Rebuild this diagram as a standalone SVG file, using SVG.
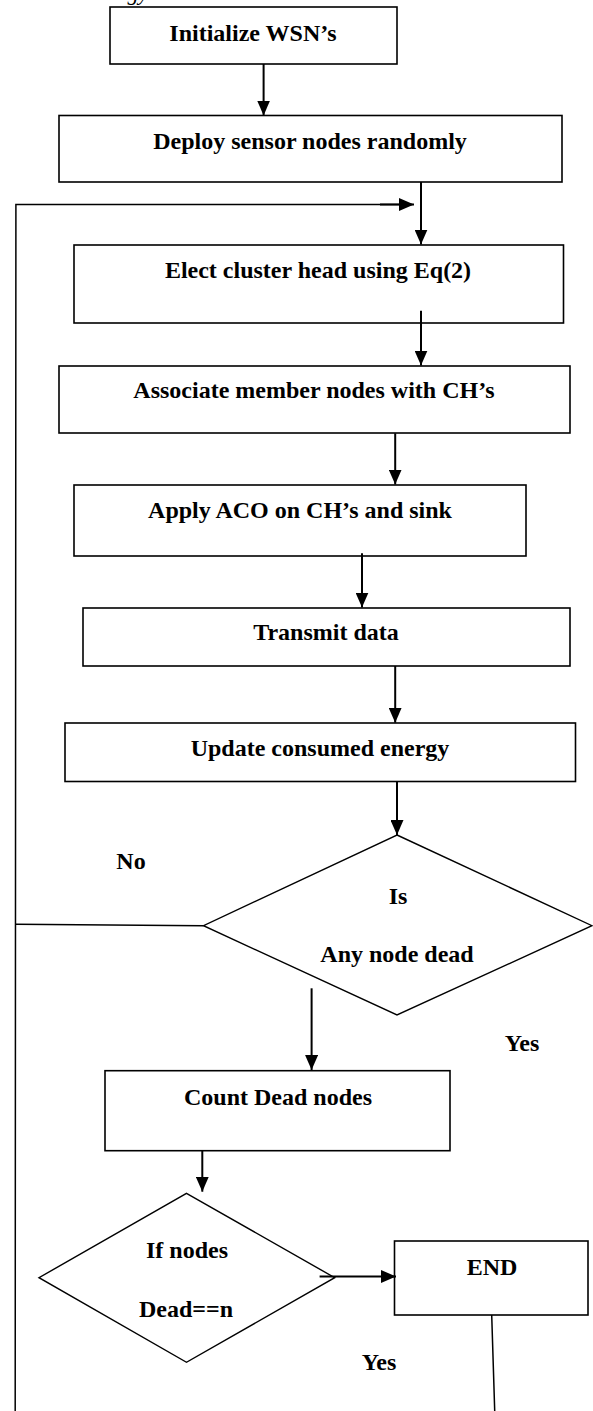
<svg xmlns="http://www.w3.org/2000/svg" width="593" height="1411" viewBox="0 0 593 1411">
<style>
.box{fill:#fff;stroke:#000;stroke-width:1.6}
.dia{fill:#fff;stroke:#000;stroke-width:1.4}
.t{font-family:"Liberation Serif","Times New Roman",serif;font-weight:bold;font-size:24px;fill:#000;text-anchor:middle}
.arr{stroke:#000;stroke-width:2;fill:none;marker-end:url(#ah)}
.ln{stroke:#000;stroke-width:1.5;fill:none}
</style>
<defs>
<marker id="ah" markerUnits="userSpaceOnUse" markerWidth="15" markerHeight="13" refX="15" refY="6.5" orient="auto">
<path d="M0,0 L15,6.5 L0,13 z" fill="#000"/>
</marker>
</defs>
<rect width="593" height="1411" fill="#fff"/>
<text x="138" y="0" style="font-family:'Liberation Serif',serif;font-style:italic;font-size:22px;fill:#000;text-anchor:middle">gy</text>

<g id="n1"><rect class="box" x="110" y="7" width="287" height="57"/><text class="t" x="253" y="41">Initialize WSN’s</text></g>
<g id="n2"><rect class="box" x="59" y="115.5" width="503" height="66.5"/><text class="t" x="310" y="148.5">Deploy sensor nodes randomly</text></g>
<g id="n3"><rect class="box" x="74" y="245" width="489.5" height="78"/><text class="t" x="318" y="277.5">Elect cluster head using Eq(2)</text></g>
<g id="n4"><rect class="box" x="59" y="366" width="511" height="67"/><text class="t" x="314" y="397.5">Associate member nodes with CH’s</text></g>
<g id="n5"><rect class="box" x="74" y="485" width="452" height="71"/><text class="t" x="300" y="517.5">Apply ACO on CH’s and sink</text></g>
<g id="n6"><rect class="box" x="83" y="608" width="487" height="58"/><text class="t" x="326" y="640">Transmit data</text></g>
<g id="n7"><rect class="box" x="65" y="723" width="510.5" height="58.5"/><text class="t" x="320" y="756">Update consumed energy</text></g>
<g id="n8"><polygon class="dia" points="397,835 592,925.7 397,1015 203.5,925.7"/><text class="t" x="398" y="904">Is</text><text class="t" x="397" y="962">Any node dead</text></g>
<g id="n9"><rect class="box" x="105" y="1070.7" width="345" height="80"/><text class="t" x="278" y="1105">Count Dead nodes</text></g>
<g id="n10"><polygon class="dia" points="186.5,1193.3 334.7,1277.7 186.5,1362.3 39,1277.7"/><text class="t" x="187" y="1258">If nodes</text><text class="t" x="186" y="1316.5">Dead==n</text></g>
<g id="n11"><rect class="box" x="394.5" y="1241" width="193.5" height="74"/><text class="t" x="492" y="1275">END</text></g>

<g id="labels">
<text class="t" x="131" y="869">No</text>
<text class="t" x="522" y="1051">Yes</text>
<text class="t" x="379" y="1370">Yes</text>
</g>

<g id="connectors">
<line class="arr" x1="263.6" y1="64" x2="263.6" y2="115.5"/>
<line class="arr" x1="421" y1="182" x2="421" y2="244.5"/>
<polyline class="ln" points="15.2,1411 15.9,204.5 402,204.5"/>
<line class="arr" x1="380" y1="204.5" x2="414" y2="204.5"/>
<line class="arr" x1="421" y1="310.7" x2="421" y2="365.5"/>
<line class="arr" x1="395.2" y1="433.3" x2="395.2" y2="484.5"/>
<line class="arr" x1="362" y1="553.3" x2="362" y2="607.5"/>
<line class="arr" x1="395.2" y1="666" x2="395.2" y2="722.7"/>
<line class="arr" x1="397" y1="781.7" x2="397" y2="835"/>
<line class="ln" x1="15.9" y1="924.3" x2="203.5" y2="925.7"/>
<line class="arr" x1="311.6" y1="988.3" x2="311.6" y2="1070"/>
<line class="arr" x1="202.3" y1="1150.7" x2="202.3" y2="1191.7"/>
<line class="arr" x1="319.6" y1="1276.5" x2="396" y2="1276.5"/>
<line class="ln" x1="491.7" y1="1315" x2="494.7" y2="1411"/>
</g>
</svg>
